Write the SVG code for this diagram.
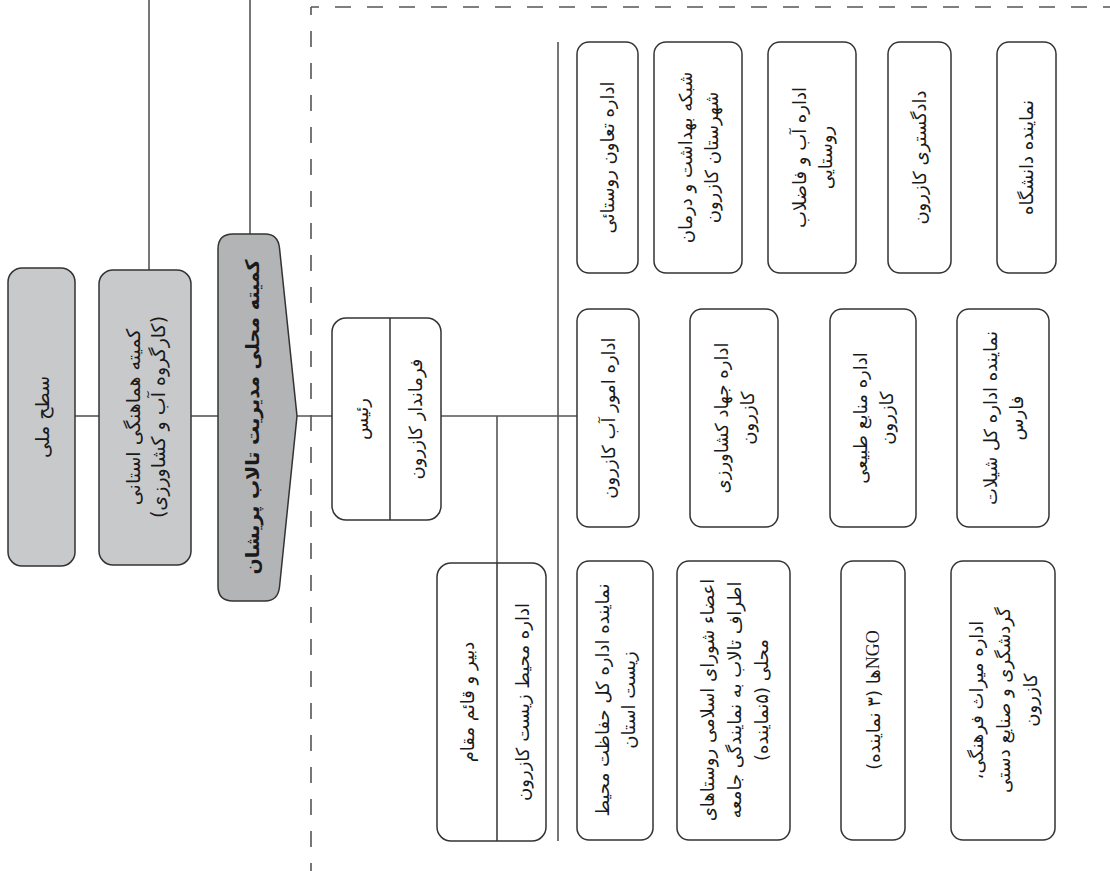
<svg xmlns="http://www.w3.org/2000/svg" width="1110" height="871" viewBox="0 0 1110 871">
<style>
.bg{fill:#ffffff}
.box{fill:#ffffff;stroke:#333333;stroke-width:1.5}
.g1{fill:#c8c9cb;stroke:#333333;stroke-width:1.5}
.g2{fill:#b3b4b6;stroke:#333333;stroke-width:1.5}
.ln{stroke:#555555;stroke-width:1.6;fill:none}
.dash{stroke:#555555;stroke-width:1.6;fill:none;stroke-dasharray:16 16;stroke-dashoffset:8}
text{font-family:"DejaVu Sans",sans-serif;font-size:18px;fill:#1a1a1a;text-anchor:middle;dominant-baseline:central;direction:rtl}
.big{font-size:19px}
.bold{font-size:19px;font-weight:bold}
.lat{font-family:"Liberation Serif",serif}
</style>
<rect class="bg" x="0" y="0" width="1110" height="871"/>
<g id="connectors">
<line class="ln" x1="149" y1="0" x2="149" y2="270"/>
<line class="ln" x1="250" y1="0" x2="250" y2="234"/>
<line class="ln" x1="75" y1="416" x2="99" y2="416"/>
<line class="ln" x1="191" y1="416" x2="218" y2="416"/>
<line class="ln" x1="297" y1="416" x2="332" y2="416"/>
<line class="ln" x1="441" y1="416" x2="577" y2="416"/>
<line class="ln" x1="497" y1="416" x2="497" y2="563"/>
<line class="ln" x1="558" y1="42" x2="558" y2="841"/>
<line class="dash" x1="311" y1="7" x2="1110" y2="7"/>
<line class="dash" x1="311" y1="7" x2="311" y2="871"/>
</g>
<g id="n-national">
<rect class="g1" x="8" y="268" width="67" height="298" rx="14"/>
<text class="big" transform="translate(41.5,417) rotate(-90)">سطح ملی</text>
</g>
<g id="n-provincial">
<rect class="g1" x="99" y="270" width="92" height="295" rx="14"/>
<text class="big" transform="translate(145,417) rotate(-90)"><tspan x="0" y="-12">کمیته هماهنگی استانی</tspan><tspan x="0" y="13">(کارگروه آب و کشاورزی)</tspan></text>
</g>
<g id="n-local">
<path class="g2" d="M233,234 H265 Q278,234 279.5,248 L297,416 L279.5,587 Q278,601 265,601 H233 Q218,601 218,586 V249 Q218,234 233,234 Z"/>
<text class="bold" transform="translate(252,417) rotate(-90)">کمیته محلی مدیریت تالاب پریشان</text>
</g>
<g id="n-chair">
<rect class="box" x="332" y="318" width="109" height="202" rx="14"/>
<line class="box" x1="390" y1="318" x2="390" y2="520"/>
<text transform="translate(361,419) rotate(-90)">رئیس</text>
<text transform="translate(415,419) rotate(-90)">فرماندار کازرون</text>
</g>
<g id="n-secretary">
<rect class="box" x="437" y="563" width="109" height="278" rx="14"/>
<line class="box" x1="497" y1="563" x2="497" y2="841"/>
<text transform="translate(467,702) rotate(-90)">دبیر و قائم مقام</text>
<text transform="translate(522,702) rotate(-90)">اداره محیط زیست کازرون</text>
</g>
<g id="n-taavon">
<rect class="box" x="577" y="42" width="61" height="231" rx="12"/>
<text transform="translate(607.5,157.5) rotate(-90)">اداره تعاون روستائی</text>
</g>
<g id="n-behdasht">
<rect class="box" x="654" y="42" width="88" height="231" rx="12"/>
<text transform="translate(698,157.5) rotate(-90)"><tspan x="0" y="-13">شبکه بهداشت و درمان</tspan><tspan x="0" y="13">شهرستان کازرون</tspan></text>
</g>
<g id="n-abfazelab">
<rect class="box" x="768" y="42" width="88" height="231" rx="12"/>
<text transform="translate(812,157.5) rotate(-90)"><tspan x="0" y="-13">اداره آب و فاضلاب</tspan><tspan x="0" y="13">روستایی</tspan></text>
</g>
<g id="n-dadgostari">
<rect class="box" x="888" y="42" width="63" height="231" rx="12"/>
<text transform="translate(919.5,157.5) rotate(-90)">دادگستری کازرون</text>
</g>
<g id="n-daneshgah">
<rect class="box" x="997" y="42" width="59" height="231" rx="12"/>
<text transform="translate(1026.5,157.5) rotate(-90)">نماینده دانشگاه</text>
</g>
<g id="n-omoorab">
<rect class="box" x="577" y="309" width="62" height="218" rx="12"/>
<text transform="translate(608,418) rotate(-90)">اداره امور آب کازرون</text>
</g>
<g id="n-jahad">
<rect class="box" x="690" y="309" width="88" height="218" rx="12"/>
<text transform="translate(734,418) rotate(-90)"><tspan x="0" y="-13">اداره جهاد کشاورزی</tspan><tspan x="0" y="13">کازرون</tspan></text>
</g>
<g id="n-manabe">
<rect class="box" x="830" y="309" width="86" height="218" rx="12"/>
<text transform="translate(873,418) rotate(-90)"><tspan x="0" y="-13">اداره منابع طبیعی</tspan><tspan x="0" y="13">کازرون</tspan></text>
</g>
<g id="n-shilat">
<rect class="box" x="957" y="309" width="92" height="218" rx="12"/>
<text transform="translate(1003,418) rotate(-90)"><tspan x="0" y="-13">نماینده اداره کل شیلات</tspan><tspan x="0" y="13">فارس</tspan></text>
</g>
<g id="n-hefazat">
<rect class="box" x="577" y="561" width="76" height="279" rx="12"/>
<text transform="translate(615,700) rotate(-90)"><tspan x="0" y="-13">نماینده اداره کل حفاظت محیط</tspan><tspan x="0" y="13">زیست استان</tspan></text>
</g>
<g id="n-shora">
<rect class="box" x="677" y="561" width="113" height="279" rx="12"/>
<text transform="translate(733.5,700) rotate(-90)"><tspan x="0" y="-27">اعضاء شورای اسلامی روستاهای</tspan><tspan x="0" y="0">اطراف تالاب به نمایندگی جامعه</tspan><tspan x="0" y="27">محلی (۵نماینده)</tspan></text>
</g>
<g id="n-ngo">
<rect class="box" x="841" y="561" width="64" height="279" rx="12"/>
<text transform="translate(873,700) rotate(-90)"><tspan class="lat">NGO</tspan>ها (۳ نماینده)</text>
</g>
<g id="n-miras">
<rect class="box" x="951" y="561" width="104" height="279" rx="12"/>
<text transform="translate(1003,700) rotate(-90)"><tspan x="0" y="-27">اداره میراث فرهنگی،</tspan><tspan x="0" y="0">گردشگری و صنایع دستی</tspan><tspan x="0" y="27">کازرون</tspan></text>
</g>
</svg>
